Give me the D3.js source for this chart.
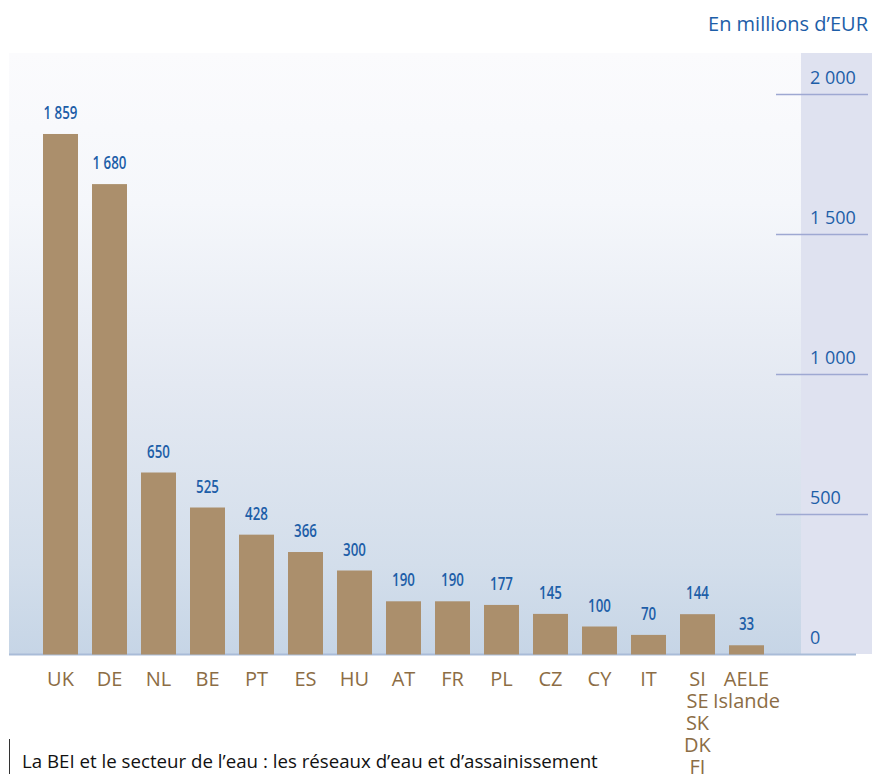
<!DOCTYPE html>
<html>
<head>
<meta charset="utf-8">
<script src="https://cdn.jsdelivr.net/npm/d3@7"></script>
<style>
html,body{margin:0;padding:0;background:#fff;}
svg{display:block;}
</style>
</head>
<body>
<svg id="chart" width="872" height="774"></svg>
<script>
const categories = ["UK","DE","NL","BE","PT","ES","HU","AT","FR","PL","CZ","CY","IT","SI|SE|SK|DK|FI","AELE|Islande"];
const values = [1859,1680,650,525,428,366,300,190,190,177,145,100,70,144,33];
const valueLabels = ["1 859","1 680","650","525","428","366","300","190","190","177","145","100","70","144","33"];
const yTicks = [0,500,1000,1500,2000];
const yTickLabels = ["0","500","1 000","1 500","2 000"];
const unitLabel = "En millions d\u2019EUR";
const caption = "La BEI et le secteur de l\u2019eau : les réseaux d\u2019eau et d\u2019assainissement";

const svg = d3.select("#chart");
const blue = "#1d5ea8";
const brown = "#8c6d45";
const barColor = "#ab8f6c";
const font = "'Open Sans', 'Noto Sans', sans-serif";

const plotLeft = 9, plotRight = 801, plotTop = 53, plotBottom = 654;

const y = d3.scaleLinear().domain([0,2000]).range([654.5,94.5]);
const x = d3.scalePoint().domain(categories).range([60.5, 746.5]);

// background gradient
const defs = svg.append("defs");
const grad = defs.append("linearGradient").attr("id","bg").attr("x1",0).attr("y1",0).attr("x2",0).attr("y2",1);
grad.append("stop").attr("offset","0%").attr("stop-color","#fbfbfd");
grad.append("stop").attr("offset","25%").attr("stop-color","#f5f7fb");
grad.append("stop").attr("offset","55%").attr("stop-color","#e4e9f2");
grad.append("stop").attr("offset","85%").attr("stop-color","#d3deeb");
grad.append("stop").attr("offset","100%").attr("stop-color","#c6d5e6");
svg.append("rect").attr("x",plotLeft).attr("y",plotTop).attr("width",plotRight-plotLeft).attr("height",plotBottom-plotTop).attr("fill","url(#bg)");
svg.append("rect").attr("x",plotRight).attr("y",plotTop).attr("width",872-plotRight).attr("height",plotBottom-plotTop).attr("fill","#dfe2f0");

// baseline strip
svg.append("line").attr("x1",plotLeft).attr("x2",856).attr("y1",y(0)).attr("y2",y(0)).attr("stroke","#a9bcd8").attr("stroke-width",2);

// gridlines (right side)
yTicks.forEach(t=>{
  if (t>0) svg.append("line").attr("x1",776).attr("x2",868).attr("y1",y(t)).attr("y2",y(t)).attr("stroke","#9ea8d2").attr("stroke-width",1.5);
});
const axis = d3.axisRight(y).tickValues(yTicks).tickSize(0).tickFormat((d,i)=>yTickLabels[i]);
const axG = svg.append("g").attr("transform","translate(810,-17)").call(axis);
axG.select(".domain").remove();
axG.selectAll("text").attr("x",0).attr("dy","0.35em").attr("text-anchor","start")
  .attr("fill",blue).attr("font-family",font).attr("font-size",18);

// bars
const bw = 35;
svg.append("g").selectAll("rect").data(values).join("rect")
  .attr("x",(d,i)=>x(categories[i]) - bw/2)
  .attr("width",bw)
  .attr("y",d=>y(d))
  .attr("height",d=>y(0)-y(d))
  .attr("fill",barColor);

// value labels (condensed)
svg.append("g").selectAll("text").data(values).join("text")
  .attr("transform",(d,i)=>`translate(${x(categories[i])},${y(d)-15}) scale(0.74,1)`)
  .attr("text-anchor","middle")
  .attr("fill",blue)
  .attr("font-family",font)
  .attr("font-weight",600)
  .attr("font-size",18)
  .text((d,i)=>valueLabels[i]);

// category labels
const cg = svg.append("g");
categories.forEach((c,i)=>{
  const lines = c.split("|");
  lines.forEach((l,j)=>{
    cg.append("text")
      .attr("x", x(c))
      .attr("y", 686 + j*22)
      .attr("text-anchor","middle")
      .attr("fill",brown)
      .attr("font-family",font)
      .attr("font-size",20)
      .text(l);
  });
});

// unit label
svg.append("text").attr("x",868).attr("y",31).attr("text-anchor","end")
  .attr("fill",blue).attr("font-family",font).attr("font-size",20).text(unitLabel);

// caption
svg.append("line").attr("x1",9.5).attr("x2",9.5).attr("y1",739).attr("y2",774).attr("stroke","#333").attr("stroke-width",1);
svg.append("text").attr("x",22).attr("y",768).attr("fill","#111")
  .attr("font-family",font).attr("font-size",18.7).text(caption);
</script>
</body>
</html>
